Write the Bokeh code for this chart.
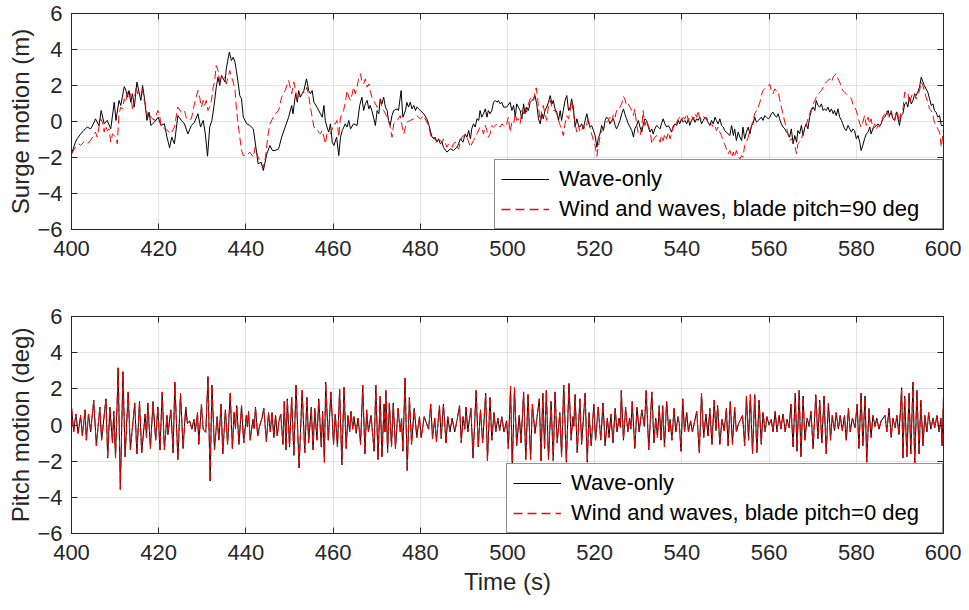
from bokeh.plotting import figure
from bokeh.models import Range1d, LinearAxis, SingleIntervalTicker, Legend, LegendItem
from bokeh.layouts import column
from bokeh.embed import file_html
from bokeh.resources import INLINE

# ---------------- data (time s, value) ----------------
surge_wave = [
    (400.0,-1.80),(400.9,-1.15),(401.3,-0.96),(402.1,-0.69),(402.8,-0.50),(403.6,-0.31),(404.4,-0.41),(405.2,-0.04),
    (405.5,0.15),(406.3,-0.22),(406.8,0.61),(407.5,-0.13),(408.2,0.06),(409.0,-0.41),(409.8,1.07),(410.2,0.06),
    (410.9,1.17),(411.3,0.89),(412.1,1.94),(412.5,1.72),(412.8,1.35),(413.2,1.72),(413.6,1.07),(414.0,1.54),
    (414.4,0.80),(415.0,2.19),(415.5,1.63),(415.9,1.17),(416.3,2.00),(416.7,1.35),(417.3,0.06),(417.8,0.52),
    (418.2,-0.22),(419.0,-0.04),(419.9,0.24),(420.5,-0.22),(421.3,-0.13),(421.9,-0.87),(422.5,-1.46),(423.0,-0.87),
    (423.6,-1.24),(424.4,0.33),(425.2,0.06),(425.9,-0.13),(426.7,-0.69),(427.5,-0.22),(428.2,-0.04),(429.0,0.43),
    (429.6,-0.31),(430.2,0.06),(430.7,-0.69),(431.2,-1.93),(431.7,-0.31),(432.2,0.06),(432.7,0.89),(433.2,1.91),
    (433.6,2.46),(434.0,2.00),(434.4,2.56),(435.2,2.19),(435.5,2.93),(436.2,3.85),(436.7,3.39),(437.1,3.57),
    (437.5,3.30),(437.8,2.83),(438.2,2.19),(438.6,1.44),(439.0,1.26),(439.4,0.24),(440.2,-0.13),(440.9,-0.22),
    (441.7,-0.41),(442.5,-1.80),(442.8,-2.35),(443.5,-2.26),(444.0,-2.72),(444.8,-1.80),(445.5,-1.33),(446.1,-1.61),
    (446.7,-1.61),(447.5,-1.52),(448.2,-0.87),(449.0,-0.31),(449.8,0.24),(450.5,0.89),
    (450.8,0.43),(451.4,1.54),(451.8,1.07),(452.1,1.72),(452.5,1.35),(452.9,1.54),(453.3,1.72),(453.9,2.37),
    (454.4,1.72),(454.8,1.54),(455.2,1.72),(455.6,1.07),(456.3,0.80),(457.1,0.43),(457.5,0.24),(457.9,0.89),
    (458.2,0.06),(458.6,-0.31),(459.0,-0.59),(459.4,-0.13),(459.8,-1.15),(460.2,-1.33),(460.8,-0.87),(461.3,-1.89),
    (461.7,-0.87),(462.1,-0.50),(462.8,-0.13),(463.2,-0.31),(463.6,0.06),(464.0,-0.41),(464.7,-0.13),(465.5,-0.22),
    (466.1,0.89),(466.6,1.35),(467.0,0.61),(467.4,0.98),(467.8,1.17),(468.2,0.70),(468.5,0.89),(468.9,0.61),
    (469.7,-0.22),(470.1,0.61),(470.5,0.43),(470.8,1.26),(471.2,0.98),(471.6,1.35),(472.0,0.80),(472.4,0.61),
    (472.7,0.06),(473.1,-0.22),(473.5,0.33),(473.9,0.61),(474.7,0.70),(475.0,0.61),(475.6,1.72),(476.0,0.24),
    (476.6,0.61),(476.9,1.07),(477.3,0.80),(477.7,1.07),(478.1,0.70),(478.5,0.89),(478.9,0.61),(479.2,0.80),
    (480.0,0.61),(480.8,0.43),(481.5,0.15),(481.9,-0.13),(482.3,-0.50),(482.7,-0.87),(483.1,-0.96),(483.4,-0.87),
    (483.8,-1.15),(484.2,-0.96),(484.6,-1.24),(485.0,-1.15),(485.3,-1.43),(486.1,-1.70),(486.9,-1.52),(487.6,-1.61),
    (488.4,-1.43),(488.8,-1.24),(489.2,-0.96),(489.8,-1.15),(490.3,-0.69),(490.7,-0.87),(491.1,-0.50),(491.5,-0.96),
    (491.8,-0.41),(492.2,-0.13),(492.6,-0.31),(493.0,0.15),(493.4,0.06),(493.7,0.61),(494.1,0.24),(494.5,0.43),
    (494.9,0.70),(495.3,0.24),(495.6,0.61),(496.0,0.43),(496.4,0.61),(496.8,1.07),(497.2,1.17),(497.6,1.07),
    (497.9,1.17),(498.3,0.98),(498.7,1.07),(499.1,0.80),(499.8,0.80),(500.6,1.07),
    (501.0,0.61),(501.4,0.89),(501.8,0.24),(502.1,0.98),(502.5,0.80),(502.9,0.61),(503.3,0.15),(503.7,0.98),
    (504.0,0.43),(504.4,0.80),(504.8,0.61),(505.2,1.07),(505.6,1.17),(506.0,1.26),(506.3,1.44),(506.7,0.98),
    (507.1,0.15),(507.5,-0.13),(507.9,0.43),(508.2,0.15),(508.6,0.61),(509.0,0.80),(509.4,1.07),(509.8,1.44),
    (510.2,0.98),(510.5,1.17),(510.9,0.70),(511.3,0.52),(511.7,0.06),(512.1,0.61),(512.4,0.06),(512.8,0.61),
    (513.2,1.17),(513.6,1.44),(514.0,0.61),(514.4,0.80),(514.7,1.26),(515.1,0.80),(515.5,-0.31),(515.9,0.15),
    (516.3,-0.22),(516.6,-0.31),(517.0,-0.13),(517.4,-0.41),(517.8,0.06),(518.2,0.43),(518.5,0.06),(518.9,-0.31),
    (519.3,-0.22),(519.7,-0.50),(520.1,-0.78),(520.5,-1.43),(520.8,-0.96),(521.2,-0.69),(521.6,-0.22),(522.0,-0.50),
    (522.4,0.06),(522.7,0.24),(523.1,0.15),(523.5,-0.13),(523.9,0.06),(524.3,0.15),(524.7,-0.22),(525.0,-0.41),
    (525.4,-0.22),(525.8,0.06),(526.2,0.43),(526.6,0.70),(526.9,0.43),(527.3,0.15),(527.7,-0.13),(528.1,-0.31),
    (528.5,-0.50),(528.9,-0.87),(529.2,-0.41),(529.6,-0.22),(530.0,0.06),(530.4,-0.31),(530.8,-0.59),(531.1,-0.22),
    (531.5,0.15),(531.9,0.06),(532.3,-0.31),(532.7,-0.59),(533.1,-0.41),(533.4,-0.69),(533.8,-0.41),(534.2,-0.22),
    (534.6,-0.31),(535.0,-0.41),(535.3,-0.13),(535.7,0.15),(536.1,-0.13),(536.5,-0.31),(536.9,-0.22),(537.3,-0.41),
    (537.6,-0.59),(538.0,-0.31),(538.4,-0.13),(538.8,-0.22),(539.2,0.06),(539.5,-0.13),(539.9,0.15),(540.3,-0.04),
    (540.7,0.06),(541.1,-0.13),(541.5,0.15),(541.8,-0.22),(542.2,0.06),(542.6,0.24),(543.0,-0.04),(543.4,0.15),
    (543.7,0.06),(544.1,0.24),(544.5,-0.13),(544.9,0.06),(545.3,0.24),(545.6,0.15),(546.0,-0.04),(546.4,-0.22),
    (546.8,0.06),(547.2,-0.13),(547.6,0.24),(547.9,0.06),(548.3,-0.13),(548.7,0.15),(549.1,-0.22),(549.5,-0.31),
    (549.8,-0.50),(550.2,-0.59),(551.0,-0.78),
    (551.4,-0.22),(551.8,-0.78),(552.1,-0.41),(552.5,-1.06),(552.9,-0.59),(553.3,-0.87),(553.7,-1.06),(554.0,-0.31),
    (554.4,-0.96),(554.8,-0.59),(555.2,-0.31),(555.6,-0.69),(556.0,-0.22),(556.3,-0.13),(556.7,0.24),(557.1,-0.04),
    (557.5,0.06),(557.9,0.15),(558.2,0.24),(558.6,0.06),(559.0,0.33),(559.4,0.24),(559.8,0.15),(560.2,0.24),
    (560.5,0.43),(560.9,0.52),(561.3,0.33),(561.7,0.24),(562.1,0.43),(562.4,0.15),(562.8,-0.13),(563.2,-0.31),
    (563.6,-0.41),(564.0,-0.59),(564.4,-0.69),(564.7,-0.87),(565.1,-0.41),(565.5,-1.24),(565.9,-0.78),(566.3,-1.15),
    (566.6,-0.50),(567.0,-0.69),(567.4,-0.22),(567.8,-0.78),(568.2,-0.31),(568.5,-0.13),(568.9,-0.41),(569.3,0.24),
    (569.7,0.61),(570.1,0.80),(570.5,0.61),(570.8,1.17),(571.2,0.89),(571.6,0.80),(572.0,0.98),(572.4,0.61),
    (572.7,0.70),(573.1,0.61),(573.5,0.80),(573.9,0.52),(574.3,0.70),(574.7,0.43),(575.0,0.61),(575.4,0.33),
    (575.8,0.70),(576.2,0.24),(576.6,0.06),(576.9,-0.13),(577.3,-0.41),(577.7,-0.50),(578.1,-0.22),(578.5,-0.41),
    (578.9,-0.59),(579.2,-0.41),(579.6,-0.50),(580.0,-0.96),(580.4,-0.78),(580.8,-1.15),(581.1,-1.61),(581.5,-1.33),
    (581.9,-0.96),(582.3,-0.69),(582.7,-0.59),(583.1,-0.31),(583.4,-0.69),(583.8,-0.41),(584.2,-0.31),(584.6,-0.22),
    (585.0,-0.13),(585.3,-0.22),(585.7,-0.13),(586.1,0.15),(586.5,0.24),(586.9,0.43),(587.3,0.61),(587.6,0.33),
    (588.0,0.52),(588.4,0.15),(588.8,0.06),(589.2,0.52),(589.5,0.24),(589.9,-0.22),(590.3,0.33),(590.7,0.43),
    (591.1,0.98),(591.5,1.07),(591.8,0.80),(592.2,1.35),(592.6,0.98),(593.0,1.17),(593.4,1.54),(593.7,1.44),
    (594.1,1.63),(594.5,1.91),(594.9,2.46),(595.3,2.19),(595.6,2.00),(596.0,1.81),(596.4,1.63),(596.8,1.26),
    (597.2,0.89),(597.6,0.98),(597.9,0.61),(598.3,0.52),(598.7,0.24),(599.1,0.33),(599.5,-0.22),(600.0,-0.22),
]

surge_wind = [
    (400.0,-1.80),(400.9,-1.43),(401.7,-1.24),(402.1,-1.33),(402.8,-1.15),(403.6,-1.24),(404.4,-1.06),(405.2,-0.69),
    (405.5,-0.59),(405.9,-0.87),(406.3,-0.31),(406.7,0.15),(407.1,-0.04),(407.5,-0.59),(407.8,-0.22),(408.2,-0.50),
    (408.6,-0.41),(409.0,-1.15),(409.4,-0.69),(409.8,-0.78),(410.2,-0.87),(410.5,-1.24),(410.9,0.43),(411.3,0.80),
    (411.7,0.70),(412.1,1.26),(412.5,1.07),(412.8,1.63),(413.2,1.35),(413.6,1.54),(414.0,0.61),(414.4,1.17),
    (414.8,1.91),(415.2,1.54),(415.5,1.63),(415.9,1.44),(416.3,1.72),(416.7,1.17),(417.1,0.80),(417.5,0.24),
    (417.8,0.43),(418.2,0.24),(419.0,0.06),(419.8,0.61),(420.2,0.43),(420.5,-0.22),(421.3,-0.41),(422.1,-0.50),
    (422.8,-0.69),(423.6,-0.31),(424.0,0.24),(424.4,0.80),(425.2,0.52),(425.9,0.61),(426.3,0.24),(426.7,0.06),
    (427.5,0.15),(428.2,0.98),(429.0,1.72),(429.4,1.35),(429.8,0.80),(430.2,1.17),(430.5,0.89),(430.9,1.17),
    (431.3,0.61),(431.7,0.80),(432.1,1.17),(432.5,1.91),(432.8,2.19),(433.2,3.11),(433.6,2.83),(434.0,2.19),
    (434.4,2.56),(434.8,2.37),(435.2,2.46),(435.5,2.09),(435.9,2.46),(436.3,2.83),(436.7,2.46),(437.1,2.19),
    (437.5,1.72),(437.8,0.80),(438.2,-0.13),(438.6,-0.87),(439.0,-1.61),(439.4,-1.89),(440.2,-1.89),(440.9,-1.70),
    (441.7,-1.98),(442.1,-1.43),(442.8,-1.98),(443.5,-2.35),(444.0,-2.54),(444.5,-1.98),(445.0,-0.87),(445.5,-0.13),
    (446.3,0.24),(446.7,0.43),(447.5,0.61),(448.2,1.35),(449.0,1.72),(449.8,2.28),(450.5,1.54),
    (451.0,2.19),(451.4,1.72),(451.8,1.17),(452.1,1.35),(452.9,1.54),(453.3,1.63),(453.7,1.63),(454.0,1.91),
    (454.4,1.44),(454.8,0.80),(455.2,0.24),(455.6,-0.31),(456.3,-0.41),(456.7,-0.59),(457.1,-0.69),(457.5,-0.50),
    (457.9,-0.87),(458.2,-1.24),(458.6,-0.69),(459.0,-0.59),(459.4,-0.69),(460.2,-0.13),(460.5,-0.13),(460.9,0.06),
    (461.3,-0.87),(461.7,0.24),(462.1,0.43),(462.4,0.61),(462.8,1.07),(463.2,1.72),(463.6,1.35),(464.0,1.17),
    (464.4,1.54),(464.7,1.91),(465.1,1.54),(465.5,1.91),(465.9,2.46),(466.3,2.65),(466.6,2.19),(467.0,2.09),
    (467.4,2.37),(467.8,1.91),(468.2,2.09),(468.5,1.72),(468.9,1.35),(469.3,1.17),(469.7,0.98),(470.1,0.80),
    (470.5,0.89),(470.8,1.17),(471.2,0.80),(471.6,0.61),(472.0,0.43),(472.4,0.24),(472.7,0.06),(473.1,-0.31),
    (473.5,-0.87),(473.9,-0.13),(474.7,0.06),(475.4,0.33),(475.8,-0.22),(476.2,-0.69),(476.6,-0.31),(476.9,-0.04),
    (477.7,0.06),(478.5,0.15),(478.9,0.24),(479.2,0.33),(480.0,0.15),(480.4,0.24),(480.8,0.33),(481.1,0.15),
    (481.5,-0.04),(481.9,-0.22),(482.3,-0.69),(482.7,-0.96),(483.1,-0.87),(483.8,-1.15),(484.2,-0.96),(484.6,-1.06),
    (485.0,-1.15),(485.3,-0.96),(486.1,-1.43),(486.5,-1.24),(486.9,-1.33),(487.3,-1.43),(487.6,-1.24),(488.0,-1.15),
    (488.4,-1.43),(488.8,-1.52),(489.2,-1.15),(489.5,-0.87),(489.9,-0.78),(490.3,-0.96),(490.7,-0.87),(491.5,-1.43),
    (491.8,-1.24),(492.2,-1.06),(492.6,-0.87),(493.0,-0.69),(493.7,-0.31),(494.1,-0.41),(494.5,-0.69),(494.9,-0.22),
    (495.3,-0.50),(495.6,-0.87),(496.0,-0.69),(496.4,-0.22),(496.8,-0.31),(497.2,-0.22),(497.6,-0.13),(497.9,-0.22),
    (498.3,-0.31),(498.7,-0.13),(499.1,-0.22),(499.5,-0.31),(499.8,-0.13),(500.2,0.24),(500.6,-0.59),(501.0,-0.04),
    (501.4,-0.13),
    (501.8,0.43),(502.1,0.06),(502.5,0.15),(502.9,-0.13),(503.3,0.61),(503.7,0.43),(504.0,0.80),(504.4,0.52),
    (504.8,0.98),(505.2,1.26),(505.6,1.35),(506.0,1.17),(506.3,1.72),(506.6,1.87),(506.9,1.35),(507.1,0.80),
    (507.5,0.06),(507.9,0.61),(508.2,0.89),(508.6,0.43),(509.0,0.06),(509.4,0.89),(509.8,1.17),(510.2,0.80),
    (510.5,0.61),(510.9,0.61),(511.3,0.43),(511.7,0.06),(512.1,-0.22),(512.4,-0.41),(512.8,-0.78),(513.2,-0.13),
    (513.6,0.33),(514.0,0.15),(514.4,0.61),(514.7,1.17),(515.1,0.52),(515.5,-0.13),(515.9,-0.59),(516.3,-0.22),
    (516.6,-0.59),(517.0,-0.50),(517.4,-0.22),(517.8,-0.41),(518.2,-0.13),(518.5,0.24),(518.9,-0.31),(519.3,-0.69),
    (519.7,-1.06),(520.1,-1.33),(520.5,-1.93),(520.8,-1.43),(521.2,-0.87),(521.6,-0.50),(522.0,-0.41),(522.4,-0.13),
    (522.7,-0.04),(523.1,0.06),(523.5,0.24),(523.9,-0.04),(524.3,0.43),(524.7,0.24),(525.0,0.61),(525.4,0.61),
    (525.8,0.80),(526.2,0.98),(526.6,1.39),(526.9,1.26),(527.3,0.89),(527.7,0.98),(528.1,0.80),(528.5,0.61),
    (528.9,0.33),(529.2,0.70),(529.6,-0.13),(530.0,-0.69),(530.4,-0.78),(530.8,-0.31),(531.1,0.61),(531.5,-0.22),
    (531.9,0.06),(532.3,-0.22),(532.7,-0.50),(533.1,-1.24),(533.4,-1.06),(533.8,-0.87),(534.2,-0.78),(534.6,-0.96),
    (535.0,-1.15),(535.3,-0.78),(535.7,-1.06),(536.1,-0.69),(536.5,-0.96),(536.9,-0.59),(537.3,-0.96),(537.6,-0.69),
    (538.0,-0.22),(538.4,-0.31),(538.8,-0.04),(539.2,0.15),(539.5,0.24),(539.9,0.06),(540.3,0.24),(540.7,0.15),
    (541.1,0.43),(541.5,0.06),(541.8,0.24),(542.2,0.33),(542.6,0.06),(543.0,0.43),(543.4,0.24),(543.7,0.61),
    (544.1,0.15),(544.5,0.24),(544.9,0.33),(545.3,0.15),(545.6,0.24),(546.0,0.06),(546.4,-0.22),(546.8,-0.13),
    (547.2,-0.31),(547.6,-0.22),(547.9,-0.50),(548.3,-0.31),(548.7,-0.59),(549.1,-0.78),(549.5,-1.15),(549.8,-1.24),
    (550.2,-1.52),(550.6,-1.80),(551.0,-1.61),
    (551.4,-1.98),(551.8,-1.70),(552.1,-1.98),(552.5,-1.61),(552.9,-1.89),(553.3,-2.07),(553.7,-1.89),(554.0,-1.98),
    (554.4,-1.33),(554.8,-1.15),(555.2,-0.87),(555.6,-0.50),(556.0,-0.22),(556.3,0.06),(556.7,0.43),(557.1,0.61),
    (557.5,0.80),(557.9,1.07),(558.2,1.44),(558.6,1.72),(559.0,1.81),(559.4,1.91),(559.8,2.00),(560.2,2.06),
    (560.5,1.72),(560.9,1.54),(561.3,1.81),(561.7,1.72),(562.1,1.63),(562.4,1.26),(562.8,0.80),(563.2,0.43),
    (563.6,-0.04),(564.0,-0.31),(564.4,-0.78),(564.7,-1.06),(565.1,-0.96),(565.5,-1.15),(565.9,-1.33),(566.3,-1.80),
    (566.6,-1.24),(567.0,-1.15),(567.4,-0.96),(567.8,-0.69),(568.2,-0.41),(568.5,-0.22),(568.9,0.15),(569.3,0.43),
    (569.7,0.70),(570.1,0.98),(570.5,1.17),(570.8,1.35),(571.2,1.44),(571.6,1.63),(572.0,1.72),(572.4,1.91),
    (572.7,2.09),(573.1,2.19),(573.5,2.28),(573.9,2.37),(574.3,2.19),(574.7,2.46),(575.0,2.56),(575.4,2.65),
    (575.8,2.37),(576.2,2.19),(576.6,1.91),(576.9,1.72),(577.3,1.63),(577.7,1.54),(578.1,1.44),(578.5,1.35),
    (578.9,1.26),(579.2,0.98),(579.6,0.80),(580.0,0.61),(580.4,0.24),(580.8,-0.13),(581.1,-0.31),(581.5,-0.04),
    (581.9,0.33),(582.3,-0.22),(582.7,0.24),(583.1,-0.13),(583.4,0.15),(583.8,-0.41),(584.2,-0.13),(584.6,-0.41),
    (585.0,-0.22),(585.3,-0.31),(585.7,-0.13),(586.1,0.24),(586.5,0.43),(586.9,0.61),(587.3,0.33),(587.6,0.24),
    (588.0,0.61),(588.4,0.15),(588.8,0.06),(589.2,0.61),(589.5,0.43),(589.9,-0.04),(590.3,0.61),(590.7,0.70),
    (591.1,1.63),(591.5,1.54),(591.8,1.63),(592.2,0.98),(592.6,1.35),(593.0,1.63),(593.4,1.54),(593.7,1.26),
    (594.1,1.44),(594.5,1.72),(594.9,2.19),(595.3,2.00),(595.6,1.72),(596.0,1.35),(596.4,1.07),(596.8,0.70),
    (597.2,0.61),(597.6,0.33),(597.9,-0.04),(598.3,-0.22),(598.7,-0.41),(599.1,-0.59),(599.5,-1.43),(600.0,-0.41),
]

pitch_wave = [
    (400.0,0.99),(400.5,-0.38),(401.0,0.61),(401.5,-0.46),(402.1,0.53),(402.5,-0.61),(403.1,0.84),(403.4,-0.84),
    (403.9,0.61),(404.4,-0.38),(405.1,1.37),(405.7,-1.15),(406.5,0.99),(406.9,-0.84),(407.9,1.45),(408.3,-1.83),
    (408.8,0.99),(409.4,-0.99),(409.7,0.76),(410.1,-1.83),(410.7,3.16),(411.2,-3.56),(411.8,2.95),(412.3,-1.76),
    (413.0,1.83),(413.5,-1.37),(414.5,1.22),(415.0,-1.60),(415.6,1.30),(416.1,-1.53),(416.9,0.61),(417.2,-0.69),
    (417.5,1.22),(418.1,-1.30),(418.7,1.30),(419.3,-0.84),(419.8,0.99),(420.3,-1.37),(420.8,1.83),(421.3,-1.37),
    (421.9,0.53),(422.1,-0.53),(422.8,0.84),(423.3,-1.53),(423.7,2.37),(424.4,-1.91),(425.0,1.76),(425.6,-1.30),
    (426.2,0.99),(426.6,0.08),(427.1,0.23),(427.6,-0.23),(428.1,0.31),(428.4,-0.38),(428.9,0.69),(429.2,-1.07),
    (429.8,1.15),(430.2,-0.23),(430.8,-0.40),(431.3,2.67),(431.8,-3.10),(432.2,2.21),(432.8,-1.37),(433.4,0.46),
    (433.8,-0.84),(434.3,1.15),(434.7,-1.60),(435.3,0.84),(435.8,-1.07),(436.4,1.76),(436.9,-1.30),(437.3,0.69),
    (437.6,-0.20),(437.9,1.07),(438.4,-1.07),(439.0,1.07),(439.5,-0.99),(440.1,0.53),(440.35,-0.10),(440.6,0.76),
    (441.0,-0.84),(441.6,0.31),(441.9,-0.20),(442.2,0.99),(442.7,-0.61),(443.1,-0.08),(443.7,0.38),(444.1,0.92),
    (444.7,-0.92),(445.2,0.69),(445.6,-0.38),(446.0,0.69),(446.4,-0.69),(446.8,0.53),(447.2,-0.61),(447.6,0.23),
    (448.0,0.61),(448.5,-1.07),(448.8,1.30),(449.2,-1.37),(449.5,1.45),(450.0,-1.22),(450.5,1.53),(451.0,-1.68),
    (451.5,2.21),(452.2,-2.37),(452.9,1.91),(453.5,-1.53),(454.0,1.53),(454.4,-0.99),(455.0,0.99),(455.4,-1.37),
    (455.8,0.92),(456.3,-0.84),(456.7,1.45),(457.3,-1.22),(457.6,0.76),(458.0,-2.06),(458.3,2.37),(458.9,-0.84),
    (459.5,1.83),(460.1,-1.07),(460.5,0.61),(461.0,-1.22),(461.5,1.98),(462.0,-2.21),(462.5,2.09),(463.0,-1.30),
    (463.4,0.53),(463.8,-0.38),(464.1,0.76),(464.5,-0.23),(464.8,0.46),(465.3,-0.46),(465.7,0.38),(466.0,-0.23),
    (466.3,-1.07),(466.8,2.21),(467.3,-1.60),(467.7,0.84),(468.1,-0.38),(468.7,0.53),(469.4,-1.45),(469.8,2.21),
    (470.3,-1.91),(470.8,1.60),(471.2,-1.76),(471.7,1.15),(471.9,-0.38),(472.1,1.91),(472.5,-1.53),(472.9,1.22),
    (473.4,-1.22),(473.8,1.22),(474.3,-1.30),(474.9,0.92),(475.4,-0.38),(475.7,0.38),(476.0,-1.45),(476.5,2.60),
    (477.0,-2.52),(477.5,1.53),(478.0,-1.07),(478.6,0.92),(479.2,-0.69),(479.8,0.46),(480.2,-0.69),(480.9,0.46),
    (481.9,-0.23),(482.4,1.15),(482.8,-0.76),(483.3,0.38),(483.7,-0.92),(484.4,1.07),(484.8,-0.76),(485.3,1.15),
    (485.9,-0.99),(486.3,0.46),(486.8,-0.38),(487.3,0.38),(487.9,-0.38),(488.4,0.23),(489.0,1.07),(489.4,-0.99),
    (489.8,0.46),(490.2,-0.23),(490.5,0.99),(490.9,-0.38),(491.6,0.92),(492.1,-1.83),(492.8,1.91),(493.3,-1.22),
    (493.8,0.84),(494.3,-0.99),(495.0,1.76),(495.4,-1.98),(496.0,1.53),(496.4,-0.84),(496.9,0.69),(497.3,-0.38),
    (497.8,0.38),(498.2,-0.31),(498.7,0.46),(499.2,-0.38),(499.8,0.23),(500.2,-1.30),(500.7,2.14),(501.1,-2.44),
    (501.6,2.06),(502.1,-1.15),(502.7,0.53),(503.1,-0.99),(503.7,1.83),(504.2,-1.91),(504.7,1.68),(505.3,-1.91),
    (505.7,1.15),(506.3,-0.46),(507.3,1.45),(507.7,-1.98),(508.1,1.76),(508.5,-1.30),(508.9,1.91),(509.4,-1.91),
    (510.0,1.30),(510.5,-1.98),(510.9,1.83),(511.4,-0.99),(512.0,0.69),(512.4,-1.76),(512.9,2.21),(513.5,-2.06),
    (514.1,2.29),(514.6,-0.84),(515.0,0.46),(515.2,-0.08),(515.5,1.68),(516.0,-1.53),(516.6,1.45),(517.0,-1.07),
    (517.8,1.76),(518.3,-2.06),(518.7,0.69),(519.2,-1.15),(519.8,1.15),(520.2,-0.84),(520.8,0.99),(521.4,-0.84),
    (521.9,1.22),(522.4,-1.15),(522.9,0.38),(523.3,-0.69),(523.7,0.61),(524.2,-0.99),(524.7,0.92),(525.1,-0.38),
    (525.6,0.38),(525.9,-0.15),(526.1,1.91),(526.6,-0.84),(527.1,0.99),(527.6,-0.38),(528.0,0.38),(528.3,-0.23),
    (528.6,1.30),(529.2,-1.30),(529.7,0.99),(530.2,-0.38),(530.8,0.84),(531.4,-0.08),(531.8,1.91),(532.4,-1.37),
    (533.1,1.83),(533.6,-0.99),(534.0,0.38),(534.4,-0.69),(534.8,1.07),(535.2,-0.84),(535.6,1.07),(536.0,-1.22),
    (536.5,1.30),(537.0,-0.38),(537.3,0.31),(537.7,-0.84),(538.2,0.92),(538.6,-0.38),(539.1,0.46),(539.4,0.08),
    (539.8,-1.45),(540.2,1.45),(540.6,-0.38),(541.1,0.69),(541.5,-0.38),(542.0,0.23),(542.4,-0.38),(543.4,0.76),
    (544.0,-1.53),(544.5,1.76),(545.0,-0.69),(545.5,0.61),(546.0,-0.61),(546.4,0.92),(546.9,-1.07),(547.4,1.37),
    (547.8,-0.31),(548.2,1.07),(548.7,-1.07),(549.2,0.31),(549.7,-0.31),(550.2,0.92),(550.6,-1.15),(551.1,1.30),
    (551.6,-1.07),(552.1,0.99),(552.5,-0.38),(553.0,0.08),(553.9,0.53),(554.4,-1.15),(554.8,1.60),(555.3,-0.84),
    (555.7,1.68),(556.2,-1.60),(556.7,1.68),(557.2,-1.53),(557.7,1.37),(558.2,-1.07),(558.6,0.69),(559.1,-0.38),
    (559.5,0.46),(560.0,0.00),(560.5,0.31),(560.9,-0.38),(561.4,0.76),(561.8,-0.38),(562.3,0.53),(562.7,-0.23),
    (563.2,0.61),(563.7,-0.38),(564.1,0.31),(564.6,-0.15),(565.0,1.15),(565.5,-1.22),(566.0,1.76),(566.4,-1.45),
    (566.9,1.91),(567.3,-1.76),(567.8,1.60),(568.2,-0.84),(568.7,0.38),(569.2,-0.08),(569.6,0.76),(570.1,-1.30),
    (570.7,1.68),(571.2,-0.76),(571.6,1.37),(572.1,-0.99),(572.6,1.60),(573.1,-1.60),(573.6,1.22),(574.1,-0.84),
    (574.5,0.53),(575.0,-0.31),(575.4,0.69),(575.9,-0.23),(576.3,0.53),(576.8,-0.31),(577.3,0.53),(577.7,-0.84),
    (578.2,0.92),(578.6,-0.38),(579.1,0.38),(579.7,-0.15),(580.2,1.15),(580.6,-1.30),(581.1,1.76),(581.5,-1.15),
    (582.0,1.60),(582.4,-2.06),(582.9,0.92),(583.4,-0.69),(583.8,0.53),(584.3,-0.08),(584.7,0.38),(585.2,-0.23),
    (585.7,0.23),(586.6,0.53),(587.0,-0.38),(587.5,0.92),(588.0,-0.69),(588.4,0.38),(588.9,-0.15),(589.3,0.53),
    (589.8,-0.53),(590.4,2.06),(590.7,-1.83),(591.1,1.60),(591.6,-1.76),(592.1,1.76),(592.5,-1.60),(593.0,2.37),
    (593.4,-2.21),(593.9,1.91),(594.4,-1.60),(594.8,1.37),(595.3,-1.15),(595.7,0.53),(596.2,-0.38),(596.6,0.69),
    (597.1,-0.23),(597.6,0.38),(598.0,-0.15),(598.5,0.53),(599.0,-0.38),(599.4,0.38),(599.7,-1.15),(600.0,1.60),
]
# the red dashed pitch trace lies on top of the black one in the picture
pitch_wind = list(pitch_wave)

x_ticks_step = 20
y_ticks_step = 2
labels = {
    "surge_y": "Surge motion (m)",
    "pitch_y": "Pitch motion (deg)",
    "x": "Time (s)",
    "wave": "Wave-only",
    "wind90": "Wind and waves, blade pitch=90 deg",
    "wind0": "Wind and waves, blade pitch=0 deg",
}

FONT = "Liberation Sans"
INK = "#262626"
RED = "#ff0000"


def unzip(pairs):
    return [a for a, _ in pairs], [b for _, b in pairs]


def make_fig(height, border_top, border_bottom, ylabel, xlabel=None):
    p = figure(width=961, height=height, x_range=Range1d(400, 600), y_range=Range1d(-6, 6),
               output_backend="svg", toolbar_location=None,
               min_border_left=71, min_border_right=18, min_border_top=border_top,
               min_border_bottom=border_bottom,
               background_fill_color="white", border_fill_color="white")
    p.outline_line_color = INK
    p.xaxis.ticker = SingleIntervalTicker(interval=x_ticks_step, num_minor_ticks=0)
    p.yaxis.ticker = SingleIntervalTicker(interval=y_ticks_step, num_minor_ticks=0)
    p.xgrid.ticker = p.xaxis[0].ticker
    p.ygrid.ticker = p.yaxis[0].ticker
    p.grid.grid_line_color = INK
    p.grid.grid_line_alpha = 0.13
    for ax in (p.xaxis[0], p.yaxis[0]):
        ax.major_tick_in = 6
        ax.major_tick_out = 0
        ax.minor_tick_line_color = None
        ax.axis_line_color = INK
        ax.major_tick_line_color = INK
        ax.major_label_text_font = FONT
        ax.major_label_text_font_size = "22px"
        ax.major_label_text_color = INK
        ax.axis_label_text_font = FONT
        ax.axis_label_text_font_size = "24px"
        ax.axis_label_text_font_style = "normal"
        ax.axis_label_text_color = INK
    p.xaxis.major_label_standoff = 11
    p.yaxis.major_label_standoff = 9
    p.yaxis.axis_label = ylabel
    p.yaxis.axis_label_standoff = 0
    if xlabel:
        p.xaxis.axis_label = xlabel
        p.xaxis.axis_label_standoff = 5
    for loc, step in (("above", x_ticks_step), ("right", y_ticks_step)):
        ax = LinearAxis(ticker=SingleIntervalTicker(interval=step, num_minor_ticks=0),
                        major_label_text_font_size="0px", major_label_standoff=0,
                        major_tick_in=6, major_tick_out=0, minor_tick_line_color=None,
                        axis_line_color=INK, major_tick_line_color=INK)
        p.add_layout(ax, loc)
    return p


def add_series(p, wave, wind, wind_label, label_w):
    tx, vx = unzip(wave)
    tw, vw = unzip(wind)
    r1 = p.line(tx, vx, line_color="black", line_width=1)
    p.line(tw, vw, line_color=RED, line_width=1, line_dash="8 4")
    # hidden twin of the red trace, used only to draw a clearly red key sample
    key_red = p.line(tw, vw, line_color=RED, line_width=1.6, line_dash="9 5", visible=False)
    leg = Legend(items=[LegendItem(label=labels["wave"], renderers=[r1]),
                        LegendItem(label=wind_label, renderers=[key_red])],
                 location="bottom_right", margin=0, padding=6, spacing=4,
                 glyph_width=48, glyph_height=24, label_standoff=10, label_width=label_w,
                 label_text_font=FONT, label_text_font_size="22px", label_text_color="black",
                 border_line_color=INK, border_line_width=1,
                 background_fill_color="white", background_fill_alpha=1.0,
                 inactive_fill_alpha=0.0, click_policy="none")
    p.add_layout(leg, "center")


p1 = make_fig(298, 13, 69, labels["surge_y"])
add_series(p1, surge_wave, surge_wind, labels["wind90"], 377)

p2 = make_fig(308, 18, 73, labels["pitch_y"], labels["x"])
add_series(p2, pitch_wave, pitch_wind, labels["wind0"], 365)

layout = column(p1, p2, spacing=0)
open("out.html", "w").write(file_html(layout, INLINE))
